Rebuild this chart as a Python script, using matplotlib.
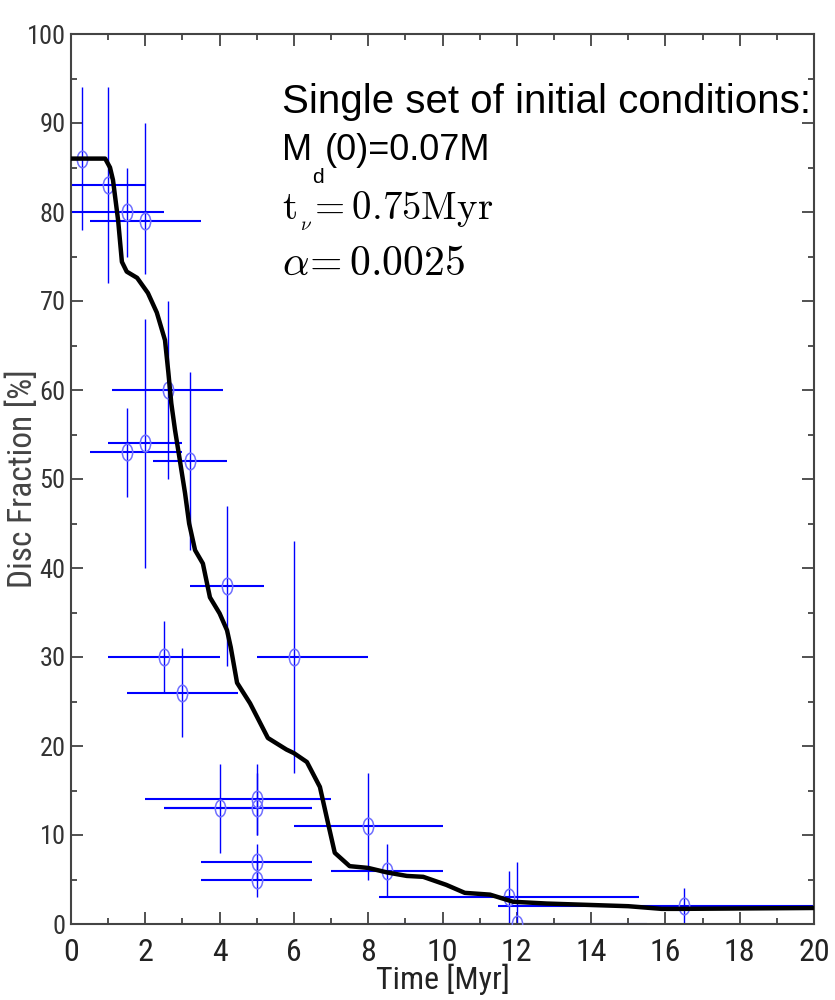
import numpy as np
import matplotlib
matplotlib.use("Agg")
import matplotlib.pyplot as plt
from matplotlib import font_manager
from matplotlib.path import Path
from matplotlib.transforms import Affine2D
from matplotlib.ticker import MultipleLocator

plt.rcParams['mathtext.fontset'] = 'cm'

# ---- data ----
# model curve
t_model = [0.05, 0.92, 1.05, 1.13, 1.27, 1.37, 1.5, 1.78, 2.07, 2.31, 2.53, 2.62, 2.7,
           2.8, 2.93, 3.07, 3.18, 3.34, 3.55, 3.74, 4.0, 4.2, 4.3, 4.47, 4.82, 5.3,
           5.8, 6.0, 6.35, 6.7, 6.92, 7.1, 7.5, 8.0, 8.5, 9.04, 9.48, 10.1, 10.6,
           11.28, 11.9, 12.8, 15.0, 15.9, 16.4, 20.0]
f_model = [86, 86, 85, 83.6, 79, 74.4, 73.3, 72.6, 70.9, 68.7, 65.6, 62, 58.5,
           55.5, 52.1, 48.4, 45, 42, 40.5, 36.7, 34.9, 33, 31.1, 27.1, 24.8, 20.9,
           19.6, 19.2, 18.2, 15.4, 11.3, 8.0, 6.5, 6.3, 5.8, 5.4, 5.3, 4.4, 3.5,
           3.3, 2.5, 2.3, 2.0, 1.7, 1.7, 1.8]

# observed clusters
t_obs = [0.3, 1.0, 1.5, 2.0, 2.6, 2.0, 1.5, 3.2, 4.2, 2.5, 3.0, 6.0, 4.0, 5.0, 5.0,
         5.0, 5.0, 8.0, 8.5, 11.8, 12.0, 16.5]
f_obs = [86, 83, 80, 79, 60, 54, 53, 52, 38, 30, 26, 30, 13, 14, 13,
         7, 5, 11, 6, 3, 0, 2]
t_err_lo = [0.3, 1.0, 1.5, 1.5, 1.5, 1.0, 1.0, 1.0, 1.0, 1.5, 1.5, 1.0, 1.5, 3.0, 2.5,
            1.5, 1.5, 2.0, 1.5, 3.5, 3.5, 5.0]
t_err_hi = [0.3, 1.0, 1.0, 1.5, 1.5, 1.0, 1.5, 1.0, 1.0, 1.5, 1.5, 2.0, 2.5, 2.0, 1.5,
            1.5, 1.5, 2.0, 1.5, 3.5, 3.5, 5.0]
f_err_lo = [8, 11, 5, 6, 10, 14, 5, 10, 9, 4, 5, 13, 5, 4, 3,
            2, 2, 6, 3, 3, 7, 2]
f_err_hi = [8, 11, 5, 11, 10, 14, 5, 10, 9, 4, 5, 13, 5, 4, 4,
            2, 2, 6, 3, 3, 7, 2]

x_ticks = [0, 2, 4, 6, 8, 10, 12, 14, 16, 18, 20]
y_ticks = [0, 10, 20, 30, 40, 50, 60, 70, 80, 90, 100]

# ---- fonts ----
entries = font_manager.fontManager.ttflist
names = {f.name for f in entries}
narrow_kw = None
for cand in ['Liberation Sans Narrow', 'Roboto Condensed', 'Open Sans Condensed',
             'DejaVu Sans Condensed', 'Noto Sans Condensed']:
    if cand in names:
        narrow_kw = dict(fontfamily=cand)
        break
if narrow_kw is None:
    cond = [f for f in entries if f.stretch in ('condensed', 'semi-condensed',
                                                 'extra-condensed', 'ultra-condensed')]
    if cond:
        narrow_kw = dict(fontfamily=cond[0].name, fontstretch=cond[0].stretch)
    else:
        narrow_kw = dict(fontfamily='Liberation Sans')
sans = 'Liberation Sans'

fig = plt.figure(figsize=(8.35, 10), dpi=100)
ax = fig.add_axes([71/835, 1-924/1000, (814-71)/835, (924-34)/1000])

# ellipse marker
ell = Path(Affine2D().scale(0.62, 1.0).transform(Path.unit_circle().vertices),
           Path.unit_circle().codes)

eb = ax.errorbar(t_obs, f_obs, xerr=[t_err_lo, t_err_hi], yerr=[f_err_lo, f_err_hi],
                 fmt='none', ecolor='#0000ff', elinewidth=1.1, capsize=0, zorder=2)
eb[2][0].set_linewidth(1.5)   # horizontal bars
eb[2][1].set_linewidth(1.0)   # vertical bars
ax.plot(t_obs, f_obs, linestyle='none', marker=ell, markersize=12,
        markerfacecolor='none', markeredgecolor='#6f6fff', markeredgewidth=1.1, zorder=3)
ax.plot(t_model, f_model, color='black', linewidth=3.2, solid_joinstyle='round', zorder=4)

ax.set_xlim(0, 20)
ax.set_ylim(0, 100)
ax.set_xticks(x_ticks)
ax.set_yticks(y_ticks)
ax.xaxis.set_minor_locator(MultipleLocator(1))
ax.yaxis.set_minor_locator(MultipleLocator(5))
ax.tick_params(which='both', direction='in', top=True, right=True, color='#333333', width=1.2)
ax.tick_params(which='major', length=8.5)
ax.tick_params(which='minor', length=4.5)
ax.tick_params(axis='x', pad=10)
ax.tick_params(axis='y', pad=4)
for s in ax.spines.values():
    s.set_linewidth(1.5)
    s.set_color('#444444')

for lbl in ax.get_xticklabels():
    lbl.set(**narrow_kw)
    lbl.set_fontsize(23)
    lbl.set_color('#222222')
for lbl in ax.get_yticklabels():
    lbl.set(**narrow_kw)
    lbl.set_fontsize(19)
    lbl.set_color('#333333')

ax.set_xlabel('Time [Myr]', fontsize=23, color='#222222', labelpad=-2, **narrow_kw)
ax.set_ylabel('Disc Fraction [%]', fontsize=24, color='#444444', **narrow_kw)
ax.yaxis.set_label_coords(-0.043, 0.5)

x0 = (282-71)/743
ax.text(x0, (924-113)/890, 'Single set of initial conditions:', transform=ax.transAxes,
        fontfamily=sans, fontsize=29, va='baseline', ha='left')
tM = ax.text(x0, (924-160)/890, 'M', transform=ax.transAxes,
             fontfamily=sans, fontsize=26, va='baseline', ha='left')
td = ax.annotate('d', xy=(1, 0), xycoords=tM, xytext=(0.3, -11),
                 textcoords='offset points', fontfamily=sans, fontsize=15, va='baseline')
ax.annotate('(0)=0.07M', xy=(1, 0), xycoords=(td, tM), xytext=(0.3, 0),
            textcoords='offset points', fontfamily=sans, fontsize=26, va='bottom')
ax.text(x0, (924-220)/890, r'$\mathrm{t}_{_{\nu}}\!=0.75\mathrm{Myr}$', transform=ax.transAxes,
        fontsize=28, va='baseline', ha='left')
ax.text(x0, (924-275)/890, r'$\alpha\!=0.0025$', transform=ax.transAxes,
        fontsize=30, va='baseline', ha='left')

fig.savefig('out.png', dpi=100)
